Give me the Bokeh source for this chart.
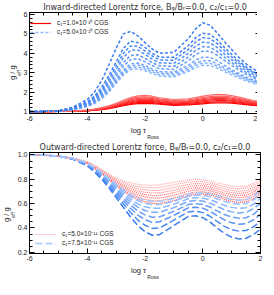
from bokeh.plotting import figure
from bokeh.models import (Range1d, LinearAxis, SingleIntervalTicker, PrintfTickFormatter,
                          CustomJSTickFormatter, Title, Legend, LegendItem)
from bokeh.layouts import column
from bokeh.embed import file_html
from bokeh.resources import INLINE

# ---------------- data ----------------
log_tau = [-6.0, -5.5, -5.0, -4.5, -4.0, -3.75, -3.5, -3.25, -3.0, -2.75, -2.5, -2.25, -2.0,
           -1.75, -1.5, -1.0, -0.5, -0.25, 0.0, 0.25, 0.5, 0.75, 1.0, 1.25, 1.5, 1.75, 2.0]

# top panel, c1 = 1.0e-10 (red, solid)
in_red_1 = [1.00,1.00,1.01,1.02,1.04,1.07,1.10,1.15,1.22,1.30,1.37,1.41,1.42,1.41,1.38,1.32,1.34,1.37,1.40,1.43,1.45,1.45,1.43,1.40,1.36,1.32,1.28]
in_red_2 = [1.00,1.00,1.01,1.02,1.04,1.07,1.11,1.17,1.24,1.33,1.41,1.46,1.47,1.46,1.42,1.36,1.38,1.41,1.45,1.48,1.50,1.50,1.48,1.44,1.40,1.35,1.31]
in_red_3 = [1.00,1.00,1.01,1.02,1.05,1.08,1.13,1.19,1.27,1.37,1.46,1.51,1.53,1.52,1.47,1.40,1.42,1.46,1.50,1.54,1.56,1.56,1.53,1.49,1.44,1.39,1.34]
in_red_4 = [1.00,1.00,1.01,1.02,1.05,1.09,1.14,1.21,1.29,1.40,1.50,1.56,1.58,1.57,1.51,1.44,1.47,1.51,1.56,1.60,1.62,1.61,1.58,1.53,1.48,1.42,1.37]
in_red_5 = [1.00,1.00,1.01,1.02,1.06,1.10,1.15,1.23,1.32,1.44,1.55,1.62,1.64,1.62,1.56,1.48,1.51,1.56,1.61,1.65,1.68,1.67,1.64,1.58,1.52,1.46,1.40]
in_red_6 = [1.00,1.00,1.01,1.02,1.06,1.11,1.17,1.25,1.35,1.48,1.60,1.68,1.70,1.67,1.60,1.52,1.55,1.60,1.66,1.71,1.74,1.73,1.69,1.63,1.56,1.49,1.43]
in_red_7 = [1.00,1.00,1.01,1.03,1.07,1.12,1.18,1.27,1.38,1.52,1.65,1.74,1.76,1.73,1.65,1.57,1.60,1.66,1.72,1.77,1.80,1.79,1.75,1.68,1.60,1.53,1.46]
in_red_8 = [1.00,1.00,1.01,1.03,1.08,1.13,1.20,1.30,1.42,1.58,1.72,1.81,1.83,1.79,1.71,1.62,1.66,1.72,1.79,1.85,1.88,1.87,1.82,1.74,1.65,1.57,1.50]

# top panel, c1 = 5.0e-10 (blue, dashed)
in_blue_1 = [1.00,1.01,1.03,1.09,1.25,1.41,1.66,2.00,2.45,2.88,3.15,3.20,3.10,2.96,2.82,2.78,3.06,3.27,3.38,3.37,3.24,3.06,2.89,2.73,2.58,2.46,2.35]
in_blue_2 = [1.00,1.01,1.03,1.10,1.27,1.43,1.69,2.05,2.51,2.96,3.25,3.30,3.19,3.04,2.90,2.86,3.16,3.38,3.50,3.49,3.35,3.16,2.98,2.81,2.65,2.52,2.40]
in_blue_3 = [1.00,1.01,1.03,1.10,1.28,1.45,1.72,2.10,2.58,3.04,3.35,3.40,3.28,3.12,2.98,2.94,3.26,3.50,3.62,3.61,3.46,3.25,3.06,2.88,2.71,2.57,2.45]
in_blue_4 = [1.00,1.01,1.03,1.11,1.30,1.48,1.76,2.16,2.66,3.14,3.45,3.50,3.37,3.20,3.06,3.02,3.38,3.65,3.80,3.79,3.62,3.38,3.16,2.96,2.78,2.63,2.50]
in_blue_5 = [1.00,1.01,1.03,1.12,1.33,1.53,1.84,2.28,2.82,3.34,3.67,3.72,3.56,3.37,3.21,3.17,3.61,3.93,4.11,4.10,3.90,3.63,3.38,3.14,2.92,2.74,2.58]
in_blue_6 = [1.00,1.01,1.03,1.13,1.36,1.58,1.92,2.40,2.97,3.53,3.88,3.92,3.74,3.52,3.36,3.32,3.80,4.14,4.34,4.32,4.10,3.80,3.52,3.26,3.02,2.82,2.65]
in_blue_7 = [1.00,1.01,1.03,1.14,1.40,1.65,2.02,2.54,3.16,3.78,4.15,4.17,3.95,3.70,3.51,3.48,4.00,4.36,4.57,4.54,4.30,3.97,3.67,3.38,3.12,2.91,2.72]
in_blue_8 = [1.00,1.01,1.03,1.16,1.45,1.72,2.12,2.68,3.35,4.00,4.38,4.36,4.12,3.86,3.66,3.64,4.20,4.58,4.80,4.76,4.50,4.14,3.82,3.50,3.22,3.00,2.80]
in_blue_9 = [1.00,1.01,1.03,1.18,1.50,1.80,2.25,2.85,3.55,4.25,4.62,4.55,4.30,4.00,3.80,3.80,4.40,4.80,5.03,4.98,4.70,4.30,3.95,3.60,3.30,3.05,2.85]
in_blue_10 = [1.00,1.01,1.04,1.22,1.62,2.00,2.60,3.40,4.25,5.00,5.12,4.90,4.55,4.22,4.00,4.05,4.75,5.25,5.57,5.45,5.05,4.60,4.20,3.80,3.45,3.20,3.00]

# bottom panel, c1 = 5.0e-11 (red, dotted)
out_red_1 = [1.0,0.998,0.99,0.97,0.93,0.89,0.845,0.795,0.745,0.70,0.665,0.635,0.615,0.603,0.60,0.625,0.665,0.678,0.68,0.672,0.655,0.635,0.618,0.61,0.615,0.64,0.68]
out_red_2 = [1.0,0.998,0.99,0.971,0.932,0.893,0.85,0.802,0.754,0.712,0.68,0.652,0.634,0.624,0.622,0.646,0.683,0.695,0.696,0.688,0.671,0.652,0.636,0.628,0.633,0.658,0.695]
out_red_3 = [1.0,0.998,0.99,0.971,0.934,0.897,0.855,0.81,0.764,0.725,0.695,0.671,0.655,0.646,0.645,0.668,0.703,0.713,0.714,0.706,0.689,0.67,0.655,0.648,0.653,0.676,0.712]
out_red_4 = [1.0,0.998,0.99,0.972,0.936,0.90,0.86,0.817,0.773,0.737,0.71,0.688,0.674,0.666,0.667,0.69,0.721,0.73,0.73,0.722,0.705,0.687,0.673,0.666,0.671,0.694,0.727]
out_red_5 = [1.0,0.998,0.99,0.973,0.939,0.904,0.865,0.824,0.782,0.748,0.725,0.705,0.693,0.687,0.688,0.71,0.739,0.748,0.747,0.738,0.722,0.705,0.69,0.684,0.689,0.711,0.743]
out_red_6 = [1.0,0.998,0.99,0.974,0.941,0.908,0.87,0.83,0.791,0.76,0.74,0.722,0.712,0.707,0.71,0.732,0.757,0.765,0.763,0.754,0.738,0.722,0.708,0.702,0.707,0.729,0.758]
out_red_7 = [1.0,0.998,0.99,0.974,0.943,0.911,0.875,0.838,0.80,0.773,0.755,0.74,0.733,0.73,0.733,0.754,0.777,0.783,0.781,0.771,0.755,0.74,0.727,0.722,0.727,0.748,0.775]
out_red_8 = [1.0,0.998,0.99,0.975,0.945,0.915,0.88,0.845,0.81,0.785,0.77,0.758,0.752,0.75,0.755,0.775,0.795,0.80,0.797,0.788,0.772,0.757,0.745,0.74,0.745,0.765,0.79]

# bottom panel, c1 = 7.5e-11 (blue, long dashes)
out_blue_1 = [1.0,0.998,0.99,0.965,0.91,0.86,0.80,0.73,0.65,0.57,0.49,0.42,0.37,0.34,0.345,0.42,0.495,0.50,0.485,0.45,0.40,0.355,0.325,0.31,0.315,0.345,0.39]
out_blue_2 = [1.0,0.998,0.99,0.966,0.915,0.868,0.812,0.746,0.672,0.599,0.527,0.465,0.422,0.396,0.40,0.464,0.532,0.538,0.526,0.496,0.453,0.413,0.387,0.374,0.379,0.408,0.454]
out_blue_3 = [1.0,0.998,0.99,0.968,0.92,0.875,0.822,0.76,0.692,0.625,0.56,0.506,0.468,0.446,0.45,0.504,0.565,0.571,0.562,0.537,0.50,0.466,0.442,0.431,0.436,0.465,0.512]
out_blue_4 = [1.0,0.998,0.99,0.969,0.923,0.881,0.831,0.772,0.708,0.647,0.588,0.539,0.507,0.488,0.491,0.537,0.592,0.60,0.593,0.572,0.54,0.51,0.489,0.479,0.484,0.512,0.56]
out_blue_5 = [1.0,0.998,0.99,0.97,0.927,0.887,0.839,0.784,0.724,0.667,0.614,0.571,0.543,0.528,0.529,0.567,0.618,0.626,0.621,0.604,0.577,0.551,0.532,0.523,0.528,0.556,0.604]
out_blue_6 = [1.0,0.998,0.99,0.971,0.93,0.892,0.846,0.793,0.737,0.685,0.636,0.598,0.574,0.561,0.562,0.594,0.64,0.649,0.645,0.632,0.609,0.586,0.569,0.561,0.566,0.594,0.643]
out_blue_7 = [1.0,0.998,0.99,0.971,0.933,0.896,0.852,0.802,0.749,0.70,0.656,0.623,0.602,0.592,0.593,0.618,0.66,0.669,0.668,0.657,0.638,0.618,0.603,0.596,0.601,0.629,0.678]
out_blue_8 = [1.0,0.998,0.99,0.972,0.935,0.90,0.858,0.81,0.76,0.715,0.675,0.645,0.628,0.62,0.62,0.64,0.678,0.688,0.688,0.68,0.664,0.647,0.634,0.628,0.633,0.66,0.71]

in_red = [in_red_1, in_red_2, in_red_3, in_red_4, in_red_5, in_red_6, in_red_7, in_red_8]
in_blue = [in_blue_1, in_blue_2, in_blue_3, in_blue_4, in_blue_5, in_blue_6, in_blue_7, in_blue_8, in_blue_9, in_blue_10]
out_red = [out_red_1, out_red_2, out_red_3, out_red_4, out_red_5, out_red_6, out_red_7, out_red_8]
out_blue = [out_blue_1, out_blue_2, out_blue_3, out_blue_4, out_blue_5, out_blue_6, out_blue_7, out_blue_8]

top_title = "Inward-directed Lorentz force, B\u1d69/B\u1d63=0.0, c\u2082/c\u2081=0.0"
bottom_title = "Outward-directed Lorentz force, B\u1d69/B\u1d63=0.0, c\u2082/c\u2081=0.0"
top_legend = ["c\u2081=1.0\u00d710\u207b\u00b9\u2070 CGS", "c\u2081=5.0\u00d710\u207b\u00b9\u2070 CGS"]
bottom_legend = ["c\u2081=5.0\u00d710\u207b\u00b9\u00b9 CGS", "c\u2081=7.5\u00d710\u207b\u00b9\u00b9 CGS"]
x_label_main, x_label_sub = "log \u03c4", "Ross"
y_label_main, y_label_sub = "g    / g", "eff"

# ---------------- styles ----------------
in_red_colors = ["#ff0000", "#ff0c0c", "#ff1a1a", "#ff2828", "#ff3838", "#ff4848", "#ff5a5a", "#ff6c6c"]
in_blue_colors = ["#8ab8fb", "#80b1fa", "#76aaf9", "#6ca3f8", "#629cf7", "#5895f6", "#4e8ef5", "#4687f4", "#3f81f2", "#3a7cf0"]
out_red_colors = ["#ff4040", "#ff4e4e", "#ff5c5c", "#ff6a6a", "#ff7878", "#ff8686", "#ff9494", "#ffa2a2"]
out_blue_colors = ["#3a7cf0", "#4a88f3", "#5a93f5", "#6a9ff7", "#7aabf9", "#89b6fb", "#98c0fd", "#a6c9ff"]

FONT = "Liberation Sans"
FONT_T = "DejaVu Sans"
FW = 231


def side_title(p, text, size, side, offset, standoff):
    t = Title(text=text, align="left", offset=offset, standoff=standoff, text_font=FONT,
              text_font_size=size, text_font_style="normal", text_color="#222222")
    p.add_layout(t, side)


def make_panel(fh, yr, y_int, y_minor, y_fmt, title, reds, red_cols, red_dash, red_w,
               blues, blue_cols, blue_dash, blue_w, leg_labels, leg_red_idx, leg_blue_idx,
               leg_loc, ylab_shift):
    p = figure(frame_width=FW, frame_height=fh, x_range=Range1d(-6, 2), y_range=Range1d(*yr),
               output_backend="svg", toolbar_location=None,
               min_border_left=10, min_border_right=3, min_border_top=8, min_border_bottom=27)
    p.grid.visible = False
    p.outline_line_color = "black"
    p.background_fill_color = "white"
    p.border_fill_color = "white"

    p.title.text = title
    p.title.align = "center"
    p.title.text_font = FONT_T
    p.title.text_font_size = "8px"
    p.title.text_font_style = "normal"
    p.title.text_color = "#333333"
    p.title.standoff = 1
    p.title.offset = 0

    p.add_layout(LinearAxis(), "above")
    p.add_layout(LinearAxis(), "right")
    for ax in p.xaxis:
        ax.ticker = SingleIntervalTicker(interval=2, num_minor_ticks=4)
    for ax in p.yaxis:
        ax.ticker = SingleIntervalTicker(interval=y_int, num_minor_ticks=y_minor)
    for ax in p.axis:
        ax.major_tick_in = 5
        ax.major_tick_out = 0
        ax.minor_tick_in = 3
        ax.minor_tick_out = 0
        ax.axis_line_color = "black"
        ax.major_tick_line_color = "black"
        ax.minor_tick_line_color = "black"
        ax.major_label_text_font = FONT
        ax.major_label_text_font_size = "7px"
        ax.major_label_text_color = "#222222"
        ax.major_label_standoff = 2
    p.below[0].formatter = PrintfTickFormatter(format="%d")
    p.left[0].formatter = PrintfTickFormatter(format=y_fmt)
    for ax in (p.above[0], p.right[0]):
        ax.formatter = CustomJSTickFormatter(code="return ''")
        ax.major_label_standoff = 0
        ax.major_label_text_font_size = "0px"

    # axis labels with subscripts: main text, subscript in the next row / column
    xs = FW / 2 - 14
    side_title(p, x_label_main, "7.5px", "below", xs, 0)
    side_title(p, x_label_sub, "5px", "below", xs + 16.3, -5)
    ys = fh / 2 + ylab_shift - 10
    side_title(p, y_label_sub, "5px", "left", ys + 4.3, -3)
    side_title(p, y_label_main, "7.5px", "left", ys, -2)

    red_r = []
    for vals, col in zip(reds, red_cols):
        red_r.append(p.line(log_tau, vals, line_color=col, line_width=red_w, line_dash=red_dash))
    blue_r = []
    for vals, col in zip(blues, blue_cols):
        blue_r.append(p.line(log_tau, vals, line_color=col, line_width=blue_w, line_dash=blue_dash))

    legend = Legend(items=[LegendItem(label=leg_labels[0], renderers=[red_r[leg_red_idx]]),
                           LegendItem(label=leg_labels[1], renderers=[blue_r[leg_blue_idx]])],
                    location=leg_loc, orientation="vertical", glyph_width=21, glyph_height=6,
                    label_height=6, label_standoff=6, spacing=0, padding=0, margin=6,
                    background_fill_alpha=0, border_line_color=None,
                    label_text_font=FONT, label_text_font_size="6.5px", label_text_color="#222222")
    p.add_layout(legend)
    return p


p1 = make_panel(101, (0.9, 6.1), 1, 5, "%d", top_title,
                in_red, in_red_colors, "solid", 1.2,
                in_blue, in_blue_colors, "3 2", 1.5,
                top_legend, 0, 0, "top_left", -7)
p2 = make_panel(101, (0.19, 1.02), 0.2, 4, "%.1f", bottom_title,
                out_red, out_red_colors, "1 1", 1.2,
                out_blue, out_blue_colors, "7 3", 1.5,
                bottom_legend, 7, 7, "bottom_left", -9)

layout = column(p1, p2, spacing=0)
open("out.html", "w").write(file_html(layout, INLINE))
